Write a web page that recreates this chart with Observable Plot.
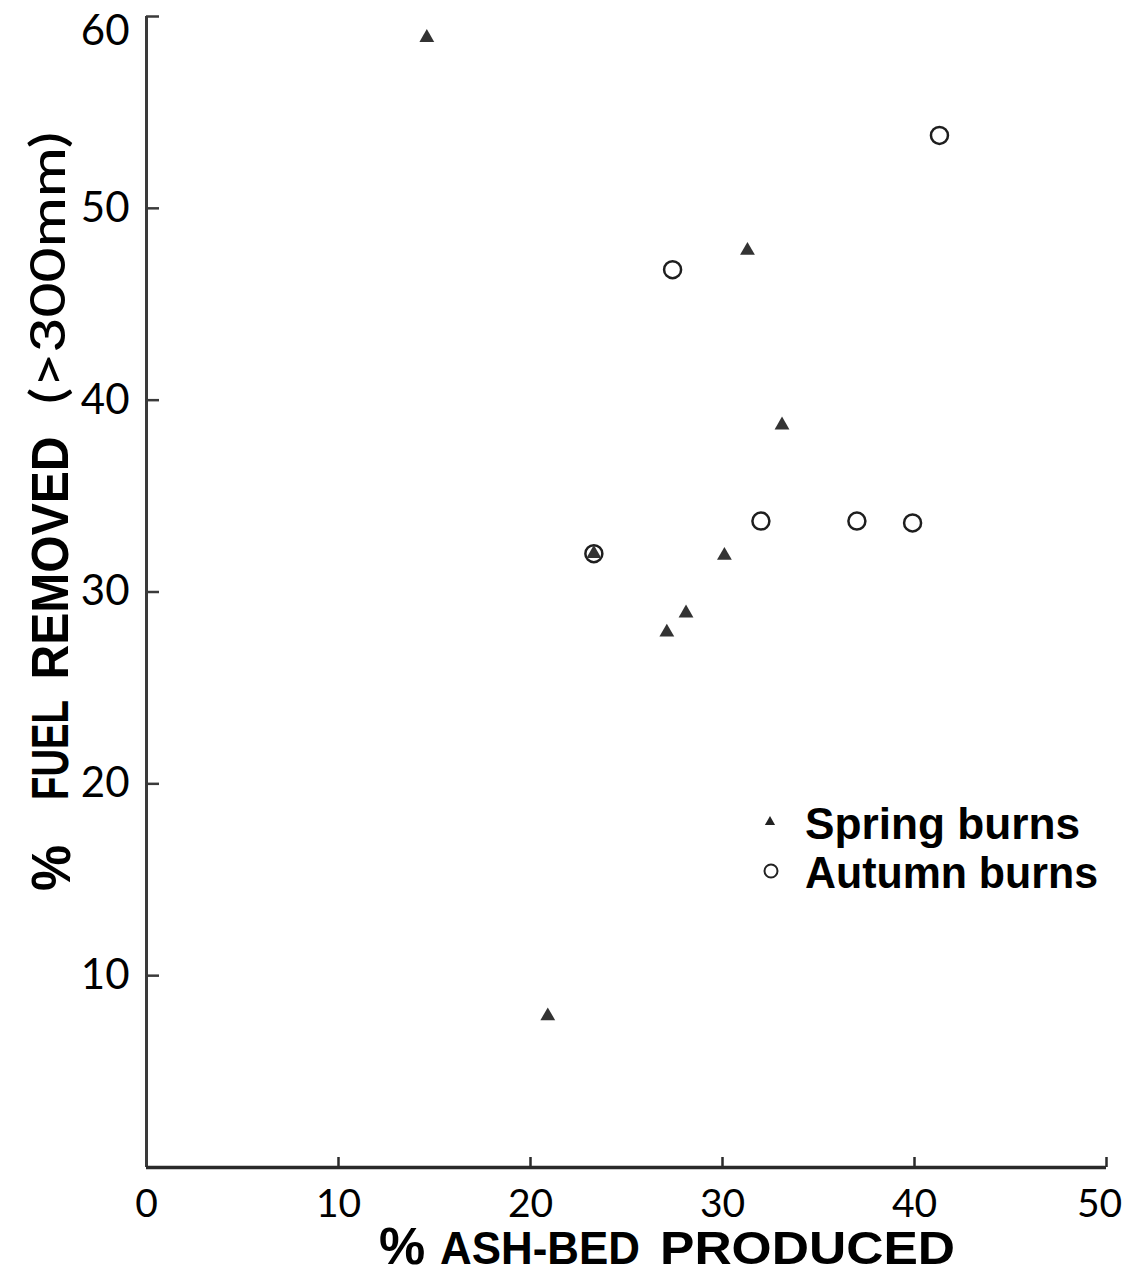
<!DOCTYPE html>
<html><head><meta charset="utf-8">
<script src="https://cdn.jsdelivr.net/npm/d3@7"></script>
<script src="https://cdn.jsdelivr.net/npm/@observablehq/plot@0.6"></script>
<style>body{margin:0;background:#fff} svg{display:block}</style>
</head><body><div id="chart"></div>
<script>
// Data
const springAsh  = [14.6, 31.3, 33.1, 30.1, 28.1, 27.1, 20.9, 23.3];
const springFuel = [58.9, 47.8, 38.7, 31.9, 28.9, 27.9, 7.9, 32.0];
const autumnAsh  = [41.3, 27.4, 32.0, 37.0, 39.9, 23.3];
const autumnFuel = [53.8, 46.8, 33.7, 33.7, 33.6, 32.0];
const xTicks = [0, 10, 20, 30, 40, 50];
const yTicks = [10, 20, 30, 40, 50, 60];
const seriesNames = ["Spring burns", "Autumn burns"];
const xTitle = ["%", "ASH-BED", "PRODUCED"];
const yTitle = ["%", "FUEL", "REMOVED", "(>300mm)"];

const W = 1125, H = 1276;
const mL = 146, mR = 19, mT = 16, mB = 109;
const spring = springAsh.map((x, i) => ({x, y: springFuel[i]}));
const autumn = autumnAsh.map((x, i) => ({x, y: autumnFuel[i]}));
const numFont = "Lato, 'DejaVu Sans', sans-serif";
const boldFont = "'Liberation Sans', Arial, sans-serif";

const plot = Plot.plot({
  width: W, height: H,
  marginLeft: mL, marginRight: mR, marginTop: mT, marginBottom: mB,
  x: {domain: [0, 50], axis: null},
  y: {domain: [0, 60], axis: null},
  style: {background: "white", color: "black"},
  marks: [
    Plot.ruleX([0], {stroke: "#3a3a3a", strokeWidth: 3}),
    Plot.ruleY([0], {stroke: "#2a2a2a", strokeWidth: 3.5}),
    Plot.tickY(yTicks, {y: d => d, stroke: "#3a3a3a", strokeWidth: 2.5, insetRight: (W - mL - mR) - 13}),
    Plot.tickX(xTicks.slice(1), {x: d => d, stroke: "#2a2a2a", strokeWidth: 2.5, insetTop: (H - mT - mB) - 10}),
    Plot.axisY(yTicks.slice(0, 5), {tickSize: 0, tickPadding: 17, fontSize: 42, fontFamily: numFont, fill: "black", label: null}),
    Plot.axisY(yTicks.slice(5), {tickSize: 0, tickPadding: 17, fontSize: 42, fontFamily: numFont, fill: "black", label: null, dy: 15}),
    Plot.axisX(xTicks.slice(0, 5), {tickSize: 0, tickPadding: 22, fontSize: 39, fontFamily: numFont, fill: "black", label: null}),
    Plot.axisX(xTicks.slice(5), {tickSize: 0, tickPadding: 22, fontSize: 39, fontFamily: numFont, fill: "black", label: null, dx: -7}),
    Plot.dot(autumn, {x: "x", y: "y", r: 8.5, stroke: "#1e1e1e", strokeWidth: 2.5, fill: "none"}),
    Plot.dot(spring, {x: "x", y: "y", symbol: "triangle", r: 5.5, fill: "#333", stroke: "none"})
  ]
});
document.getElementById("chart").appendChild(plot);

const svg = d3.select(plot);
const g = svg.append("g").attr("fill", "black").attr("text-anchor", "start");

// X-axis title
g.append("text").attr("x", 402).attr("y", 1264).attr("text-anchor", "middle")
  .attr("font-family", boldFont).attr("font-weight", 700).attr("font-size", 52).text(xTitle[0]);
g.append("text").attr("x", 440).attr("y", 1264).attr("text-anchor", "start").attr("font-family", boldFont).attr("font-weight", 700)
  .attr("font-size", 47).attr("textLength", 200).attr("lengthAdjust", "spacingAndGlyphs").text(xTitle[1]);
g.append("text").attr("x", 660).attr("y", 1264).attr("text-anchor", "start").attr("font-family", boldFont).attr("font-weight", 700)
  .attr("font-size", 47).attr("textLength", 295).attr("lengthAdjust", "spacingAndGlyphs").text(xTitle[2]);

// Y-axis title (rotated)
function vtext(str, baseX, cy, size, len, weight, fam) {
  const t = g.append("text").attr("transform", `translate(${baseX},${cy}) rotate(-90)`)
    .attr("text-anchor", "middle").attr("font-family", fam).attr("font-weight", weight)
    .attr("font-size", size).text(str);
  if (len) t.attr("textLength", len).attr("lengthAdjust", "spacingAndGlyphs");
}
vtext(yTitle[0], 70, 868, 56, 46, 700, boldFont);
vtext(yTitle[1], 68, 750, 52, 100, 700, boldFont);
vtext(yTitle[2], 68, 558, 52, 243, 700, boldFont);
vtext(yTitle[3], 65, 268, 48, 272, 500, numFont);

// Legend
const lg = svg.append("g").attr("text-anchor", "start");
lg.append("path").attr("transform", "translate(770,822)")
  .attr("d", d3.symbol(d3.symbolTriangle, 45)()).attr("fill", "#222");
lg.append("circle").attr("cx", 771).attr("cy", 871).attr("r", 6.5)
  .attr("fill", "none").attr("stroke", "#222").attr("stroke-width", 2);
lg.append("text").attr("x", 805).attr("y", 839).attr("font-family", boldFont).attr("font-weight", 700)
  .attr("font-size", 44).attr("textLength", 275).attr("lengthAdjust", "spacingAndGlyphs").text(seriesNames[0]);
lg.append("text").attr("x", 805).attr("y", 888).attr("font-family", boldFont).attr("font-weight", 700)
  .attr("font-size", 44).attr("textLength", 293).attr("lengthAdjust", "spacingAndGlyphs").text(seriesNames[1]);
</script>
</body></html>
